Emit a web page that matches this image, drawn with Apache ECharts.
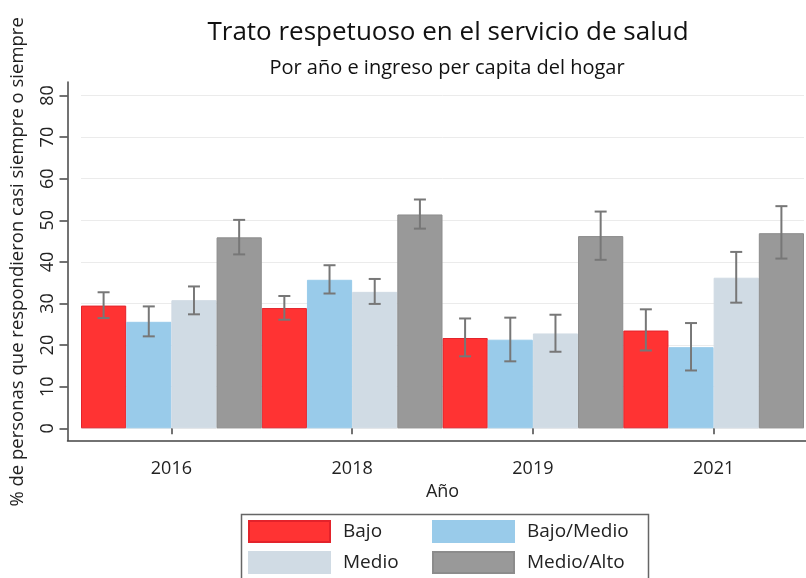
<!DOCTYPE html>
<html>
<head>
<meta charset="utf-8">
<script src="https://cdn.jsdelivr.net/npm/echarts@6/dist/echarts.min.js"></script>
<style>html,body{margin:0;padding:0;background:#fff;}#c{width:806px;height:578px;}</style>
</head>
<body>
<div id="c"></div>
<script>
var categories = ['2016', '2018', '2019', '2021'];
var seriesNames = ['Bajo', 'Bajo/Medio', 'Medio', 'Medio/Alto'];
var bajo = [29.5, 28.9, 21.7, 23.5];
var bajoMedio = [25.6, 35.7, 21.3, 19.5];
var medio = [30.8, 32.8, 22.8, 36.2];
var medioAlto = [45.9, 51.4, 46.2, 46.9];
var bajoLow = [26.5, 26.1, 17.3, 18.7];
var bajoHigh = [32.7, 31.8, 26.4, 28.6];
var bajoMedioLow = [22.1, 32.4, 16.1, 13.9];
var bajoMedioHigh = [29.3, 39.2, 26.6, 25.3];
var medioLow = [27.4, 29.9, 18.4, 30.2];
var medioHigh = [34.1, 35.9, 27.3, 42.4];
var medioAltoLow = [41.8, 48.0, 40.5, 40.8];
var medioAltoHigh = [50.1, 55.0, 52.1, 53.4];
var yTicks = [0, 10, 20, 30, 40, 50, 60, 70, 80];

var values = [bajo, bajoMedio, medio, medioAlto];
var lows = [bajoLow, bajoMedioLow, medioLow, medioAltoLow];
var highs = [bajoHigh, bajoMedioHigh, medioHigh, medioAltoHigh];
var colors = ['#FF3333', '#99CBEA', '#D0DBE4', '#999999'];
var borders = ['#E3232B', '#99CBEA', '#D0DBE4', '#8C8C8C'];
var FONT = 'Open Sans';

var chart = echarts.init(document.getElementById('c'), null, {renderer: 'canvas'});

var series = [];
seriesNames.forEach(function (name, i) {
  series.push({
    name: name, type: 'bar', xAxisIndex: 0, yAxisIndex: 0,
    data: values[i], barGap: '0%', barCategoryGap: '0%',
    itemStyle: {color: colors[i], borderColor: borders[i], borderWidth: 1},
    emphasis: {disabled: true}
  });
});
seriesNames.forEach(function (name, i) {
  series.push({
    type: 'custom', xAxisIndex: 0, yAxisIndex: 0, z: 10,
    data: categories.map(function (c, k) { return [k, lows[i][k], highs[i][k]]; }),
    encode: {x: 0, y: [1, 2]},
    renderItem: function (params, api) {
      var band = api.size([1, 0])[0];
      var off = (i - 1.5) * band / 4;
      var lo = api.coord([api.value(0), api.value(1)]);
      var hi = api.coord([api.value(0), api.value(2)]);
      var x = lo[0] + off;
      var hw = 6;
      var st = {stroke: '#777777', lineWidth: 2};
      return {type: 'group', children: [
        {type: 'line', shape: {x1: x, y1: hi[1], x2: x, y2: lo[1]}, style: st},
        {type: 'line', shape: {x1: x - hw, y1: hi[1], x2: x + hw, y2: hi[1]}, style: st},
        {type: 'line', shape: {x1: x - hw, y1: lo[1], x2: x + hw, y2: lo[1]}, style: st}
      ]};
    }
  });
});

var legendPos = [[248, 520], [432, 520], [248, 551], [432, 551]];
var legends = seriesNames.map(function (name, i) {
  return {data: [name], left: legendPos[i][0], top: legendPos[i][1], padding: 0,
    itemWidth: 81, itemHeight: 21, icon: 'rect', selectedMode: false,
    textStyle: {fontFamily: FONT, fontSize: 19, color: '#222', padding: [0, 0, 0, 8]}};
});

chart.setOption({
  animation: false,
  textStyle: {fontFamily: FONT},
  title: [
    {text: 'Trato respetuoso en el servicio de salud', left: 443, top: 15, textAlign: 'center',
     textStyle: {fontFamily: FONT, fontSize: 26, fontWeight: 'normal', color: '#111'}},
    {text: 'Por año e ingreso per capita del hogar', left: 442, top: 53, textAlign: 'center',
     textStyle: {fontFamily: FONT, fontSize: 20, fontWeight: 'normal', color: '#111'}}
  ],
  grid: [
    {left: 81, right: 2, top: 95.5, bottom: 149.7},
    {left: 67.5, right: 0, top: 82, bottom: 137.5}
  ],
  xAxis: [
    {type: 'category', gridIndex: 0, data: categories, offset: 12.5,
     name: 'Año', nameLocation: 'middle', nameGap: 38,
     nameTextStyle: {fontFamily: FONT, fontSize: 18, color: '#222'},
     axisLine: {show: false},
     axisTick: {show: true, alignWithLabel: true, length: 6, lineStyle: {color: '#444', width: 1.5}},
     axisLabel: {fontFamily: FONT, fontSize: 18, color: '#222', margin: 19},
     splitLine: {show: false}},
    {type: 'value', gridIndex: 1, min: 0, max: 1, show: true,
     axisLine: {show: true, onZero: false, lineStyle: {color: '#444', width: 1.5}},
     axisTick: {show: false}, axisLabel: {show: false}, splitLine: {show: false}}
  ],
  yAxis: [
    {type: 'value', gridIndex: 0, min: yTicks[0], max: yTicks[yTicks.length - 1], interval: 10, offset: 13.5,
     name: '% de personas que respondieron casi siempre o siempre', nameLocation: 'middle', nameGap: 40,
     nameTextStyle: {fontFamily: FONT, fontSize: 18.5, color: '#222'},
     axisLine: {show: false},
     axisTick: {show: true, length: 8, lineStyle: {color: '#444', width: 1.5}},
     axisLabel: {fontFamily: FONT, fontSize: 18, color: '#222', rotate: 90, margin: 11},
     splitLine: {show: true, lineStyle: {color: '#EBEBEB', width: 1}}},
    {type: 'value', gridIndex: 1, min: 0, max: 1,
     axisLine: {show: true, onZero: false, lineStyle: {color: '#444', width: 1.5}},
     axisTick: {show: false}, axisLabel: {show: false}, splitLine: {show: false}}
  ],
  legend: legends,
  graphic: [
    {type: 'rect', left: 239, top: 512, shape: {width: 407, height: 80},
     style: {fill: 'none', stroke: '#666', lineWidth: 1.5}, z: -1}
  ],
  series: series
});
</script>
</body>
</html>
